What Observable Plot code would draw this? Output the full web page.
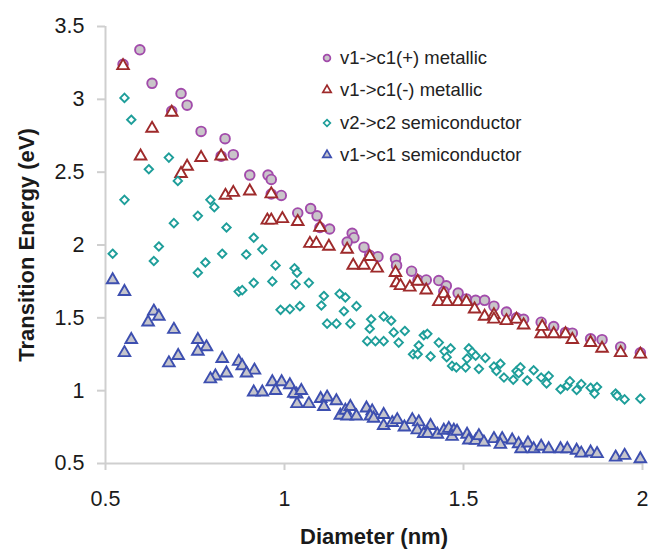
<!DOCTYPE html>
<html><head><meta charset="utf-8">
<script src="https://cdn.jsdelivr.net/npm/d3@7"></script>
<script src="https://cdn.jsdelivr.net/npm/@observablehq/plot@0.6"></script>
<style>
body{margin:0;background:#fff;}
#wrap{position:relative;width:652px;height:552px;font-family:"Liberation Sans",Arial,sans-serif;}
#legend{position:absolute;left:318px;top:42px;font-size:18.5px;color:#222;}
.row{height:32.3px;display:flex;align-items:center;white-space:nowrap;}
.row svg{width:18px;height:18px;margin-right:4px;overflow:visible;}
#chart svg g[aria-label$="axis label"]{font-weight:bold;font-size:22px;}
</style></head>
<body><div id="wrap"><div id="chart"></div><div id="legend"></div></div>
<script>
// Axis ticks
const xTicks = [0.5, 1, 1.5, 2];
const yTicks = [0.5, 1, 1.5, 2, 2.5, 3, 3.5];
const seriesNames = ["v1->c1(+) metallic", "v1->c1(-) metallic", "v2->c2 semiconductor", "v1->c1 semiconductor"];

// [diameter (nm), transition energy (eV)]
const metallicPlus = [[0.549,3.24],[0.596,3.34],[0.630,3.11],[0.711,3.04],[0.728,2.96],[0.685,2.92],[0.767,2.78],[0.834,2.73],[0.823,2.61],[0.857,2.62],[0.903,2.48],[0.954,2.48],[0.963,2.45],[0.963,2.35],[0.991,2.34],[1.037,2.22],[1.073,2.25],[1.091,2.20],[1.099,2.12],[1.126,2.11],[1.189,2.08],[1.194,2.05],[1.175,2.02],[1.222,1.985],[1.238,1.93],[1.261,1.92],[1.310,1.905],[1.313,1.86],[1.355,1.82],[1.373,1.76],[1.396,1.76],[1.431,1.756],[1.452,1.72],[1.445,1.68],[1.485,1.67],[1.508,1.63],[1.534,1.62],[1.559,1.62],[1.585,1.58],[1.620,1.54],[1.648,1.50],[1.668,1.49],[1.717,1.47],[1.752,1.44],[1.785,1.40],[1.804,1.395],[1.855,1.356],[1.887,1.35],[1.939,1.30],[1.994,1.26]];

const metallicMinus = [[0.549,3.23],[0.685,2.91],[0.630,2.80],[0.598,2.61],[0.767,2.60],[0.823,2.61],[0.728,2.54],[0.711,2.49],[0.835,2.34],[0.857,2.36],[0.903,2.37],[0.963,2.35],[0.994,2.18],[0.952,2.17],[0.963,2.17],[1.037,2.16],[1.099,2.12],[1.071,2.01],[1.089,2.01],[1.124,1.99],[1.175,1.97],[1.192,1.86],[1.222,1.86],[1.238,1.92],[1.259,1.84],[1.310,1.81],[1.313,1.74],[1.324,1.72],[1.350,1.71],[1.372,1.75],[1.396,1.69],[1.445,1.665],[1.431,1.61],[1.454,1.61],[1.485,1.61],[1.508,1.61],[1.531,1.56],[1.559,1.51],[1.585,1.52],[1.585,1.49],[1.620,1.48],[1.648,1.49],[1.668,1.45],[1.717,1.39],[1.720,1.44],[1.752,1.39],[1.785,1.39],[1.804,1.35],[1.855,1.33],[1.887,1.29],[1.939,1.26],[1.994,1.25]];

const semiV2C2 = [[0.520,1.94],[0.553,3.01],[0.572,2.86],[0.677,2.60],[0.621,2.52],[0.702,2.44],[0.553,2.31],[0.793,2.31],[0.804,2.26],[0.758,2.20],[0.691,2.15],[0.838,2.12],[0.914,2.05],[0.938,1.97],[0.649,1.99],[0.635,1.89],[0.826,1.94],[0.893,1.935],[0.779,1.88],[0.758,1.81],[0.975,1.86],[1.028,1.84],[1.035,1.81],[0.914,1.74],[0.966,1.75],[1.031,1.73],[0.872,1.68],[0.882,1.69],[0.989,1.555],[1.015,1.56],[1.043,1.58],[1.068,1.74],[1.110,1.65],[1.103,1.585],[1.154,1.665],[1.170,1.64],[1.166,1.545],[1.201,1.58],[1.119,1.46],[1.145,1.46],[1.184,1.46],[1.242,1.49],[1.277,1.51],[1.298,1.48],[1.238,1.425],[1.305,1.40],[1.336,1.41],[1.231,1.34],[1.254,1.34],[1.277,1.34],[1.319,1.33],[1.389,1.38],[1.399,1.39],[1.375,1.31],[1.359,1.25],[1.372,1.25],[1.408,1.235],[1.431,1.33],[1.447,1.27],[1.464,1.29],[1.453,1.23],[1.468,1.17],[1.480,1.16],[1.506,1.16],[1.515,1.29],[1.524,1.265],[1.510,1.22],[1.534,1.24],[1.543,1.15],[1.561,1.225],[1.585,1.165],[1.603,1.185],[1.592,1.135],[1.613,1.09],[1.639,1.075],[1.648,1.135],[1.659,1.16],[1.654,1.12],[1.678,1.07],[1.696,1.14],[1.717,1.09],[1.738,1.10],[1.732,1.05],[1.771,1.01],[1.790,1.035],[1.797,1.065],[1.816,1.005],[1.829,1.045],[1.855,1.02],[1.873,1.025],[1.866,0.98],[1.925,0.98],[1.929,0.965],[1.950,0.94],[1.994,0.945]];

const semiV1C1 = [[0.520,1.76],[0.553,1.68],[0.635,1.545],[0.649,1.51],[0.619,1.47],[0.691,1.42],[0.572,1.35],[0.553,1.26],[0.758,1.35],[0.782,1.30],[0.758,1.27],[0.703,1.24],[0.677,1.19],[0.826,1.22],[0.872,1.20],[0.882,1.17],[0.916,1.14],[0.894,1.12],[0.838,1.12],[0.807,1.10],[0.793,1.08],[0.966,1.06],[0.992,1.06],[1.015,1.04],[0.914,0.99],[0.938,0.99],[0.975,1.00],[1.034,0.975],[1.035,0.91],[1.026,0.98],[1.047,1.00],[1.068,0.91],[1.101,0.945],[1.119,0.955],[1.145,0.93],[1.110,0.89],[1.156,0.83],[1.170,0.865],[1.184,0.89],[1.175,0.825],[1.201,0.825],[1.229,0.88],[1.245,0.86],[1.240,0.825],[1.249,0.81],[1.277,0.835],[1.277,0.76],[1.301,0.78],[1.315,0.80],[1.335,0.75],[1.357,0.80],[1.375,0.785],[1.371,0.73],[1.389,0.705],[1.408,0.76],[1.400,0.705],[1.427,0.70],[1.445,0.727],[1.459,0.74],[1.473,0.727],[1.468,0.685],[1.482,0.72],[1.510,0.70],[1.515,0.66],[1.534,0.658],[1.543,0.69],[1.557,0.646],[1.585,0.67],[1.608,0.67],[1.603,0.63],[1.636,0.66],[1.654,0.635],[1.661,0.60],[1.680,0.64],[1.696,0.60],[1.717,0.617],[1.738,0.60],[1.771,0.60],[1.790,0.60],[1.816,0.59],[1.829,0.57],[1.855,0.578],[1.873,0.567],[1.925,0.543],[1.950,0.555],[1.994,0.532]];

const styles = [
  {data: metallicPlus, symbol: "circle", r: 4.8, fill: "#c9c5c9", stroke: "#a24bab", lr: 3.4},
  {data: metallicMinus, symbol: "triangle", r: 4.3, fill: "#ffffff", stroke: "#9e2a2b", lr: 3.1},
  {data: semiV2C2, symbol: "diamond2", r: 3.8, fill: "#ffffff", stroke: "#1e9e9a", lr: 3.0},
  {data: semiV1C1, symbol: "triangle", r: 4.3, fill: "#c5c5cc", stroke: "#3d4fb0", lr: 3.1}
];

const axisColor = "#cfcfcf";
const plot = Plot.plot({
  width: 652, height: 552,
  marginLeft: 105, marginRight: 10, marginTop: 26, marginBottom: 89,
  style: {fontFamily: "Liberation Sans, Arial, sans-serif", fontSize: "21px", background: "#fff"},
  x: {domain: [xTicks[0], xTicks[xTicks.length-1]]},
  y: {domain: [yTicks[0], yTicks[yTicks.length-1]]},
  marks: [
    Plot.ruleY([yTicks[0]], {stroke: axisColor, strokeWidth: 2}),
    Plot.ruleX([xTicks[0]], {stroke: axisColor, strokeWidth: 2}),
    Plot.axisX({ticks: xTicks, tickFormat: d => String(d), tickSize: 7, tickPadding: 20, fontSize: 21.5, stroke: axisColor, strokeWidth: 2, fill: "#1a1a1a", label: null}),
    Plot.axisY({ticks: yTicks, tickFormat: d => String(d), tickSize: 8, tickPadding: 13, fontSize: 21.5, stroke: axisColor, strokeWidth: 2, fill: "#1a1a1a", label: null}),
    Plot.axisX({ticks: [], label: "Diameter (nm)", labelAnchor: "center", labelOffset: 80, labelArrow: "none", fontSize: 22, fontWeight: "bold", fill: "#1a1a1a"}),
    Plot.axisY({ticks: [], label: "Transition Energy (eV)", labelAnchor: "center", labelOffset: 87, labelArrow: "none", fontSize: 22, fontWeight: "bold", fill: "#1a1a1a"}),
    ...styles.map(s => Plot.dot(s.data, {x: d => d[0], y: d => d[1], symbol: s.symbol, r: s.r, fill: s.fill, stroke: s.stroke, strokeWidth: 1.9}))
  ]
});
document.getElementById("chart").appendChild(plot);

// Legend
const legend = d3.select("#legend");
styles.forEach((s, i) => {
  const row = legend.append("div").attr("class", "row");
  const sv = row.append("svg").attr("viewBox", "-9 -9 18 18");
  const sym = {circle: d3.symbolCircle, triangle: d3.symbolTriangle, diamond2: d3.symbolDiamond2}[s.symbol];
  sv.append("path").attr("d", d3.symbol(sym, Math.PI * s.lr * s.lr)())
    .attr("fill", s.fill).attr("stroke", s.stroke).attr("stroke-width", 1.7);
  row.append("span").text(seriesNames[i]);
});
</script>
</body></html>
